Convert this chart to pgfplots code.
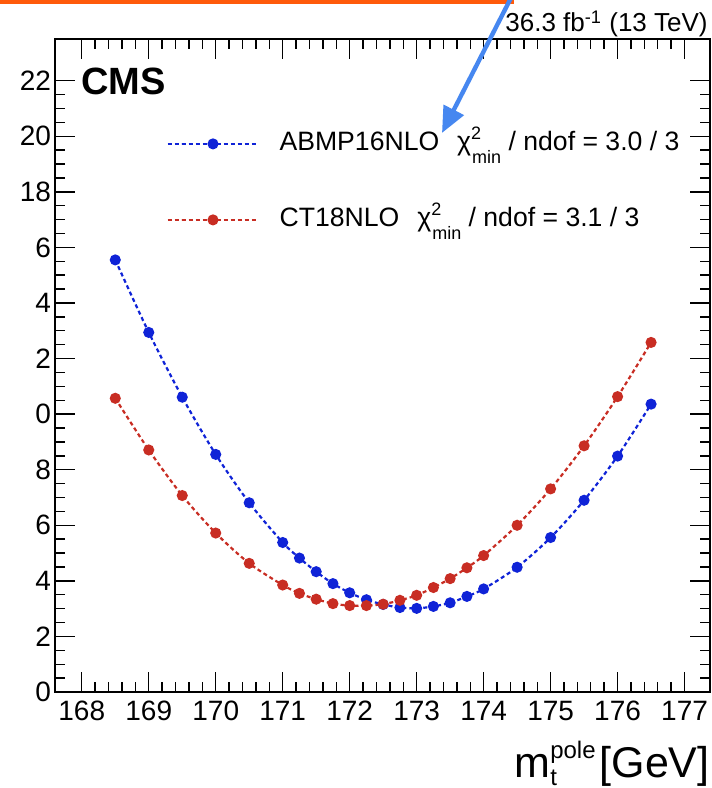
\documentclass[border=0pt]{standalone}
\usepackage{fontspec}
\setmainfont{Liberation Sans}
\usepackage{pgfplots}
\pgfplotsset{compat=1.18}
\usetikzlibrary{arrows.meta}
\definecolor{rootblue}{RGB}{15,35,215}
\definecolor{rootred}{RGB}{200,45,35}
\definecolor{arrowblue}{RGB}{70,135,240}
\definecolor{barorange}{RGB}{255,90,10}
\newcommand{\chimin}{χ\rlap{\raisebox{0.42em}{\fontsize{9}{9}\selectfont 2}}\hspace{0.5pt}\raisebox{-0.5em}{\fontsize{9}{9}\selectfont min}}
\begin{document}
\begin{tikzpicture}[x=1pt,y=1pt]
\begin{axis}[
  at={(27.5pt,48pt)}, anchor=south west,
  scale only axis, width=327.5pt, height=326.5pt,
  clip=false,
  xmin=167.6, xmax=177.38, ymin=0, ymax=23.5,
  xtick={168,...,177}, ytick={0,2,...,22},
  xticklabels={168,169,170,171,172,173,174,175,176,177},
  yticklabels={0,2,4,6,8,0,2,4,6,18,20,22},
  minor x tick num=4, minor y tick num=3,
  tick align=inside, major tick length=10pt, minor tick length=5pt,
  tick style={black, line width=0.7pt},
  axis line style={line width=1pt},
  ticklabel style={font=\fontsize{14}{16}\selectfont},
  yticklabel style={xshift=1.5pt},
  xticklabel style={yshift=-1pt},
  legend style={at={(rel axis cs:0,1)}, anchor=north west, xshift=55.5pt, yshift=-45.5pt,
    draw=none, fill=none, inner sep=0pt, row sep=24.5pt, column sep=10pt,
    nodes={inner sep=0pt, text height=10pt, text depth=3.5pt},
    font=\fontsize{13.3}{16}\selectfont},
  legend cell align=left,
  legend image code/.code={\draw[#1, mark repeat=2, mark phase=2] plot coordinates {(0pt,0pt) (22.75pt,0pt) (45.5pt,0pt)};},
]
\addplot[color=rootblue, line width=1.1pt, dash pattern=on 2pt off 1.5pt, smooth, mark=*, mark size=2.2pt, mark options={solid}] coordinates {
(168.5,15.55) (169,12.94) (169.5,10.61) (170,8.55) (170.5,6.81) (171,5.38) (171.25,4.82) (171.5,4.33) (171.75,3.90) (172,3.57) (172.25,3.32) (172.5,3.15) (172.75,3.04) (173,3.01) (173.25,3.08) (173.5,3.21) (173.75,3.44) (174,3.71) (174.5,4.49) (175,5.56) (175.5,6.90) (176,8.49) (176.5,10.36)
};
\addlegendentry{ABMP16NLO\hspace{9pt}\chimin\ / ndof = 3.0 / 3}
\addplot[color=rootred, line width=1.1pt, dash pattern=on 2pt off 1.5pt, smooth, mark=*, mark size=2.2pt, mark options={solid}] coordinates {
(168.5,10.57) (169,8.71) (169.5,7.07) (170,5.72) (170.5,4.63) (171,3.85) (171.25,3.55) (171.5,3.34) (171.75,3.18) (172,3.11) (172.25,3.11) (172.5,3.16) (172.75,3.30) (173,3.48) (173.25,3.76) (173.5,4.08) (173.75,4.47) (174,4.91) (174.5,6.00) (175,7.31) (175.5,8.86) (176,10.63) (176.5,12.58)
};
\addlegendentry{CT18NLO\hspace{9pt}\chimin\ / ndof = 3.1 / 3}
\node[inner sep=0pt, anchor=base west, font=\fontsize{19}{22}\selectfont\bfseries, xshift=13pt, yshift=-28pt] at (rel axis cs:0,1) {CMS};
\node[inner sep=0pt, anchor=base east, font=\fontsize{13}{15}\selectfont, xshift=-1pt, yshift=3.6pt] at (rel axis cs:1,1) {36.3 fb\textsuperscript{-1} (13 TeV)};
\node[inner sep=0pt, anchor=base east, font=\fontsize{21.5}{24}\selectfont, yshift=-42.5pt] at (rel axis cs:1,0) {m\rlap{\raisebox{-0.2em}{\fontsize{12}{12}\selectfont t}}\raisebox{0.42em}{\fontsize{12}{12}\selectfont pole}\hspace{2pt}[GeV]};
\end{axis}
\fill[barorange] (0pt,392pt) rectangle (257pt,396pt);
\draw[arrowblue, line width=2.2pt, -{Triangle[length=13pt,width=11pt]}] (257pt,398pt) -- (221pt,327.5pt);
\pgfresetboundingbox
\useasboundingbox (0pt,0pt) rectangle (356pt,394pt);
\end{tikzpicture}
\end{document}
